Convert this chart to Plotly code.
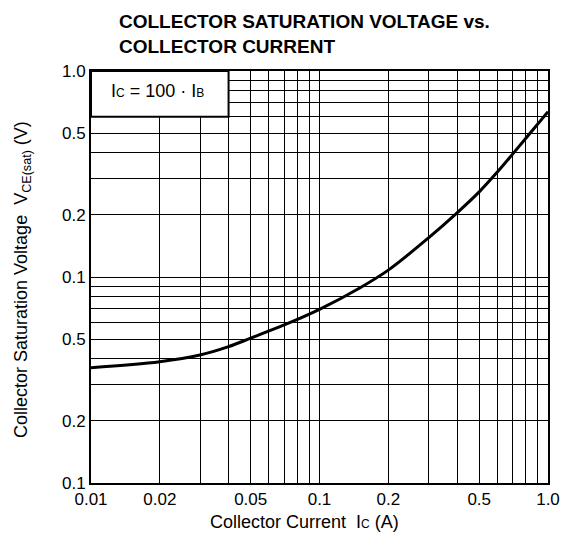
import plotly.graph_objects as go

# Data
ic = [0.01, 0.02, 0.03, 0.04, 0.05, 0.07, 0.1, 0.15, 0.2, 0.3, 0.4, 0.5, 0.6, 0.7, 0.8, 0.9, 1.0]
vce_sat = [0.0363, 0.0388, 0.0418, 0.0459, 0.0505, 0.0585, 0.0697, 0.0885, 0.108, 0.155,
           0.205, 0.259, 0.323, 0.395, 0.472, 0.551, 0.635]

x_tickvals = [0.01, 0.02, 0.05, 0.1, 0.2, 0.5, 1.0]
x_ticktext = ["0.01", "0.02", "0.05", "0.1", "0.2", "0.5", "1.0"]
y_tickvals = [0.01, 0.02, 0.05, 0.1, 0.2, 0.5, 1.0]
y_ticktext = ["0.1", "0.2", "0.5", "0.1", "0.2", "0.5", "1.0"]
minor_vals = [m * d for d in (0.01, 0.1) for m in range(2, 10)]

FONT = "Liberation Sans, Arial, sans-serif"

# plot area in figure pixels (page has an 8px body margin)
L, T, W, H = 83, 63, 457, 412

fig = go.Figure()
fig.add_trace(go.Scatter(x=ic, y=vce_sat, mode="lines",
                         line=dict(color="black", width=3, shape="spline", smoothing=1.0),
                         showlegend=False, hoverinfo="skip"))

axis_common = dict(type="log", showline=True, linecolor="black", linewidth=2, mirror=True,
                   showgrid=True, gridcolor="black", gridwidth=1.3, ticks="",
                   tickfont=dict(family=FONT, size=17, color="black"), zeroline=False)

fig.update_xaxes(range=[-2, 0], tickmode="array", tickvals=x_tickvals, ticktext=x_ticktext,
                 minor=dict(tickvals=minor_vals, showgrid=True, gridcolor="black", gridwidth=1.3, ticks=""),
                 **axis_common)
fig.update_yaxes(range=[-2, 0], tickmode="array", tickvals=y_tickvals, ticktext=y_ticktext,
                 minor=dict(tickvals=minor_vals, showgrid=True, gridcolor="black", gridwidth=1.3, ticks=""),
                 **axis_common)

# Condition box in the upper-left corner
fig.add_shape(type="rect", xref="x", yref="y", x0=0.01, x1=0.04, y0=0.6, y1=1.0,
              fillcolor="white", line=dict(color="black", width=2), layer="above")
fig.add_annotation(x=-1.707, y=-0.097, xref="x", yref="y",
                   text='I<span style="font-size:12px">C</span> = 100 · I<span style="font-size:12px">B</span>',
                   showarrow=False, font=dict(family=FONT, size=18, color="black"))

# Title
fig.add_annotation(x=(109 - L) / W, y=1 + (T - 1) / H, xref="paper", yref="paper",
                   xanchor="left", yanchor="top", align="left", showarrow=False,
                   text="<b>COLLECTOR SATURATION VOLTAGE vs.<br>COLLECTOR CURRENT</b>",
                   font=dict(family=FONT, size=19, color="black"))

# Axis titles
fig.add_annotation(x=(296 - L) / W, y=(L + H - 8 - 514 + T - L + 0) / H if False else (T + H - 514) / H,
                   xref="paper", yref="paper",
                   xanchor="center", yanchor="middle", showarrow=False,
                   text='Collector Current  I<span style="font-size:12px">C</span> (A)',
                   font=dict(family=FONT, size=18, color="black"))
fig.add_annotation(x=(14 - L) / W, y=(T + H - 272) / H, xref="paper", yref="paper",
                   xanchor="center", yanchor="middle", showarrow=False, textangle=-90,
                   text="Collector Saturation Voltage  V<sub>CE(sat)</sub> (V)",
                   font=dict(family=FONT, size=18, color="black"))

fig.update_layout(width=576, height=550, margin=dict(l=L, r=576 - L - W, t=T, b=550 - T - H),
                  plot_bgcolor="white", paper_bgcolor="white",
                  font=dict(family=FONT, color="black"))

fig.write_html("out.html")
